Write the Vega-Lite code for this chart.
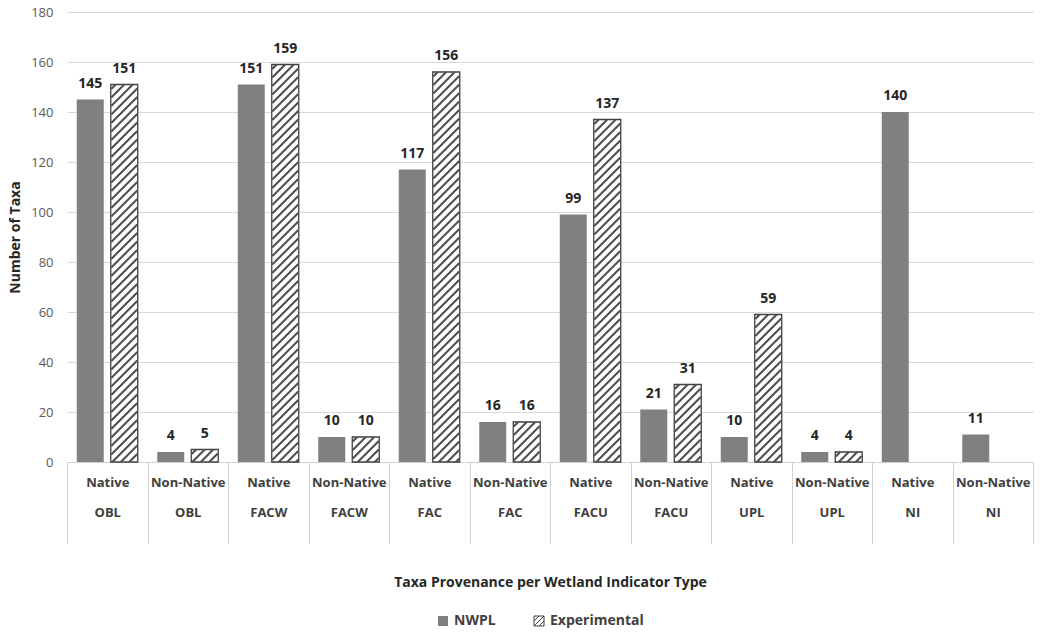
{
  "$schema": "https://vega.github.io/schema/vega-lite/v6.json",
  "width": 966,
  "height": 450,
  "autosize": {"type": "none"},
  "padding": {"left": 67, "top": 12, "right": 9, "bottom": 171},
  "background": "white",
  "config": {"view": {"stroke": null}, "font": "Open Sans"},
  "data": {
    "values": [
      {"provenance": "Native", "type": "OBL", "series": "NWPL", "count": 145},
      {"provenance": "Native", "type": "OBL", "series": "Experimental", "count": 151},
      {"provenance": "Non-Native", "type": "OBL", "series": "NWPL", "count": 4},
      {"provenance": "Non-Native", "type": "OBL", "series": "Experimental", "count": 5},
      {"provenance": "Native", "type": "FACW", "series": "NWPL", "count": 151},
      {"provenance": "Native", "type": "FACW", "series": "Experimental", "count": 159},
      {"provenance": "Non-Native", "type": "FACW", "series": "NWPL", "count": 10},
      {"provenance": "Non-Native", "type": "FACW", "series": "Experimental", "count": 10},
      {"provenance": "Native", "type": "FAC", "series": "NWPL", "count": 117},
      {"provenance": "Native", "type": "FAC", "series": "Experimental", "count": 156},
      {"provenance": "Non-Native", "type": "FAC", "series": "NWPL", "count": 16},
      {"provenance": "Non-Native", "type": "FAC", "series": "Experimental", "count": 16},
      {"provenance": "Native", "type": "FACU", "series": "NWPL", "count": 99},
      {"provenance": "Native", "type": "FACU", "series": "Experimental", "count": 137},
      {"provenance": "Non-Native", "type": "FACU", "series": "NWPL", "count": 21},
      {"provenance": "Non-Native", "type": "FACU", "series": "Experimental", "count": 31},
      {"provenance": "Native", "type": "UPL", "series": "NWPL", "count": 10},
      {"provenance": "Native", "type": "UPL", "series": "Experimental", "count": 59},
      {"provenance": "Non-Native", "type": "UPL", "series": "NWPL", "count": 4},
      {"provenance": "Non-Native", "type": "UPL", "series": "Experimental", "count": 4},
      {"provenance": "Native", "type": "NI", "series": "NWPL", "count": 140},
      {"provenance": "Non-Native", "type": "NI", "series": "NWPL", "count": 11}
    ]
  },
  "transform": [{"calculate": "datum.provenance + '|' + datum.type", "as": "group"}],
  "encoding": {
    "x": {
      "field": "group",
      "type": "nominal",
      "sort": null,
      "title": "Taxa Provenance per Wetland Indicator Type",
      "scale": {"paddingInner": 0, "paddingOuter": 0},
      "axis": {
        "labelExpr": "split(datum.label, '|')",
        "labelAngle": 0,
        "labelFont": "Open Sans",
        "labelFontSize": 13,
        "labelFontWeight": "bold",
        "labelColor": "#404040",
        "labelLineHeight": 30,
        "labelBaseline": "alphabetic",
        "labelPadding": -57,
        "labelOverlap": false,
        "ticks": true,
        "tickBand": "extent",
        "tickSize": 81,
        "tickColor": "#d0d0d0",
        "tickWidth": 1,
        "domain": true,
        "domainColor": "#d0d0d0",
        "domainWidth": 1,
        "titleFont": "Open Sans",
        "titleFontSize": 14,
        "titleFontWeight": "bold",
        "titleColor": "#262626",
        "titlePadding": 32
      }
    },
    "xOffset": {
      "field": "series",
      "type": "nominal",
      "scale": {"domain": ["NWPL", "Experimental"], "paddingInner": 0.206, "paddingOuter": 0.287}
    },
    "y": {
      "field": "count",
      "type": "quantitative",
      "title": "Number of Taxa",
      "scale": {"domain": [0, 180]},
      "axis": {
        "values": [0, 20, 40, 60, 80, 100, 120, 140, 160, 180],
        "domain": false,
        "ticks": false,
        "grid": true,
        "gridColor": "#d9d9d9",
        "gridWidth": 1,
        "labelFont": "Open Sans",
        "labelFontSize": 13,
        "labelColor": "#595959",
        "labelPadding": 14,
        "titleFont": "Open Sans",
        "titleFontSize": 14,
        "titleFontWeight": "bold",
        "titleColor": "#262626",
        "titlePadding": 8
      }
    }
  },
  "layer": [
    {
      "mark": {"type": "bar", "strokeWidth": 1.3},
      "encoding": {
        "fill": {
          "field": "series",
          "type": "nominal",
          "scale": {"domain": ["NWPL", "Experimental"], "range": ["#808080", "#ffffff"]},
          "legend": {
            "title": null,
            "orient": "none",
            "legendX": 369,
            "legendY": 602,
            "direction": "horizontal",
            "symbolType": "M-1,-1H1V1H-1Z M-1,0L0,-1 M-1,1L1,-1 M0,1L1,0",
            "symbolSize": 100,
            "symbolStrokeWidth": 1,
            "labelFont": "Open Sans",
            "labelFontSize": 14,
            "labelFontWeight": "bold",
            "labelColor": "#404040",
            "labelOffset": 4,
            "columnPadding": 36
          }
        },
        "stroke": {
          "field": "series",
          "type": "nominal",
          "scale": {"domain": ["NWPL", "Experimental"], "range": ["transparent", "#404040"]},
          "legend": {
            "title": null,
            "orient": "none",
            "legendX": 369,
            "legendY": 602,
            "direction": "horizontal",
            "symbolType": "M-1,-1H1V1H-1Z M-1,0L0,-1 M-1,1L1,-1 M0,1L1,0",
            "symbolSize": 100,
            "symbolStrokeWidth": 1,
            "labelFont": "Open Sans",
            "labelFontSize": 14,
            "labelFontWeight": "bold",
            "labelColor": "#404040",
            "labelOffset": 4,
            "columnPadding": 36
          }
        }
      }
    },
    {
      "transform": [{"filter": "datum.series === 'Experimental'"}],
      "mark": {
        "type": "point",
        "clip": true,
        "filled": false,
        "opacity": 1,
        "size": 4,
        "stroke": "#505050",
        "strokeWidth": 2.1,
        "shape": "M-13 4.5L-8.5 0M-13 13L0 0M-13 21.5L8.5 0M-13 30L13 4M-13 38.5L13 12.5M-13 47L13 21M-13 55.5L13 29.5M-13 64L13 38M-13 72.5L13 46.5M-13 81L13 55M-13 89.5L13 63.5M-13 98L13 72M-13 106.5L13 80.5M-13 115L13 89M-13 123.5L13 97.5M-13 132L13 106M-13 140.5L13 114.5M-13 149L13 123M-13 157.5L13 131.5M-13 166L13 140M-13 174.5L13 148.5M-13 183L13 157M-13 191.5L13 165.5M-13 200L13 174M-13 208.5L13 182.5M-13 217L13 191M-13 225.5L13 199.5M-13 234L13 208M-13 242.5L13 216.5M-13 251L13 225M-13 259.5L13 233.5M-13 268L13 242M-13 276.5L13 250.5M-13 285L13 259M-13 293.5L13 267.5M-13 302L13 276M-13 310.5L13 284.5M-13 319L13 293M-13 327.5L13 301.5M-13 336L13 310M-13 344.5L13 318.5M-13 353L13 327M-13 361.5L13 335.5M-13 370L13 344M-13 378.5L13 352.5M-13 387L13 361M-13 395.5L13 369.5M-13 404L13 378M-13 412.5L13 386.5M-13 421L13 395M-13 429.5L13 403.5"
      }
    },
    {
      "mark": {
        "type": "text",
        "dy": -12,
        "baseline": "alphabetic",
        "font": "Open Sans",
        "fontSize": 14,
        "fontWeight": "bold",
        "color": "#262626"
      },
      "encoding": {"text": {"field": "count", "type": "quantitative"}}
    }
  ]
}
